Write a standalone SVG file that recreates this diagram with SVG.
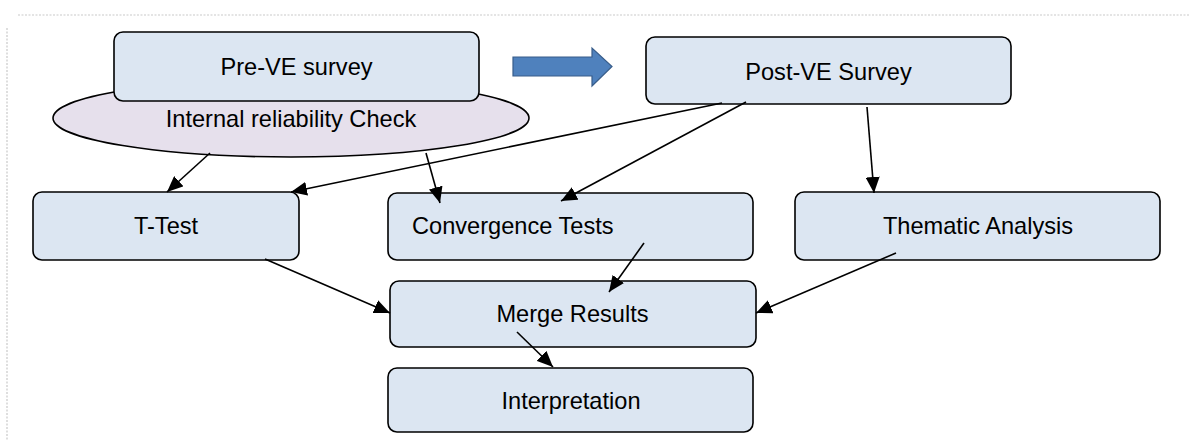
<svg xmlns="http://www.w3.org/2000/svg" width="1189" height="441" viewBox="0 0 1189 441">
<style>
.box{fill:#DCE6F2;stroke:#000;stroke-width:1.6}
.lbl{font-family:"Liberation Sans",Arial,sans-serif;font-size:23.6px;fill:#000}
.c{text-anchor:middle}
.edge{stroke:#000;stroke-width:1.6;fill:none;marker-end:url(#ah)}
.frame{stroke:#c9c9c9;stroke-width:1.2;stroke-dasharray:2 1.5;fill:none}
</style>
<defs>
<marker id="ah" markerUnits="userSpaceOnUse" markerWidth="16" markerHeight="14" refX="16" refY="7" orient="auto">
<path d="M0,0 L16,7 L0,14 Z" fill="#000"/>
</marker>
</defs>
<rect width="1189" height="441" fill="#fff"/>
<g id="frame">
<line class="frame" x1="18" y1="15" x2="1189" y2="15"/>
<line class="frame" x1="7" y1="28" x2="7" y2="441"/>
</g>
<g id="reliability">
<ellipse cx="291" cy="118" rx="238" ry="39" fill="#E6E0EC" stroke="#000" stroke-width="1.6"/>
<text class="lbl c" x="291" y="127">Internal reliability Check</text>
</g>
<g id="pre-ve">
<rect class="box" x="114" y="32" width="365" height="69" rx="9"/>
<text class="lbl c" x="296.5" y="75">Pre-VE survey</text>
</g>
<g id="big-arrow">
<path d="M513,57 L592,57 L592,48 L612,66.5 L592,86 L592,76 L513,76 Z" fill="#4F81BD" stroke="#385D8A" stroke-width="1.2"/>
</g>
<g id="post-ve">
<rect class="box" x="646" y="37" width="365" height="67" rx="9"/>
<text class="lbl c" x="828.5" y="80">Post-VE Survey</text>
</g>
<g id="t-test">
<rect class="box" x="33" y="192" width="266" height="68" rx="9"/>
<text class="lbl c" x="166" y="234">T-Test</text>
</g>
<g id="convergence">
<rect class="box" x="388" y="193" width="365" height="67" rx="9"/>
<text class="lbl" x="412" y="234">Convergence Tests</text>
</g>
<g id="thematic">
<rect class="box" x="795" y="192" width="365" height="68" rx="9"/>
<text class="lbl c" x="978" y="234">Thematic Analysis</text>
</g>
<g id="merge">
<rect class="box" x="390" y="281" width="366" height="66" rx="9"/>
<text class="lbl c" x="572.5" y="322">Merge Results</text>
</g>
<g id="interpretation">
<rect class="box" x="388" y="368" width="365" height="64" rx="9"/>
<text class="lbl c" x="571" y="409">Interpretation</text>
</g>
<g id="connectors">
<line class="edge" x1="210" y1="153" x2="167" y2="192"/>
<line class="edge" x1="722" y1="103" x2="291" y2="192"/>
<line class="edge" x1="426" y1="153" x2="440" y2="203"/>
<line class="edge" x1="746" y1="102" x2="561" y2="201"/>
<line class="edge" x1="867" y1="107" x2="874" y2="193"/>
<line class="edge" x1="265" y1="259" x2="390" y2="313"/>
<line class="edge" x1="644" y1="243" x2="609" y2="292"/>
<line class="edge" x1="896" y1="253" x2="756" y2="313"/>
<line class="edge" x1="517" y1="332" x2="553" y2="367"/>
</g>
</svg>
